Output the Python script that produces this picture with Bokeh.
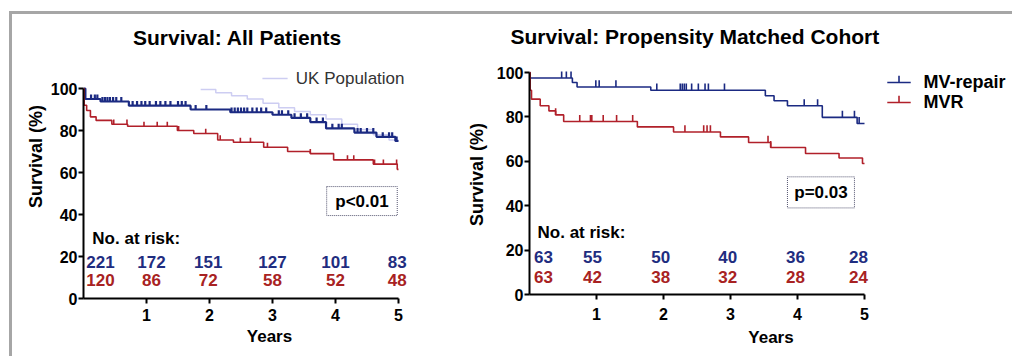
import numpy as np
from bokeh.plotting import figure
from bokeh.models import Range1d, FixedTicker, Spacer, Label
from bokeh.layouts import row, column
from bokeh.core.properties import value
from bokeh.embed import file_html
from bokeh.resources import INLINE

# ---------------- data ----------------
# Panel A: all patients
all_repair_t = [0, 0.03, 0.27, 0.72, 1.7, 2.33, 3.0, 3.3, 3.6, 3.85, 4.3, 4.65, 4.95]
all_repair_s = [100, 95, 93.8, 91.8, 90, 88.7, 87.5, 86, 84, 81, 79, 77, 75]
all_repair_cens = [0.12, 0.18, 0.22, 0.3, 0.34, 0.38, 0.42, 0.47, 0.52, 0.6, 0.78, 0.85, 0.92,
                   0.98, 1.05, 1.15, 1.22, 1.3, 1.38, 1.5, 1.56, 1.62, 1.78, 1.95, 2.35, 2.4,
                   2.45, 2.5, 2.55, 2.6, 2.68, 2.75, 2.82, 2.9, 3.1, 3.15, 3.25, 3.35, 3.45,
                   3.55, 3.7, 3.8, 3.95, 4.05, 4.1, 4.35, 4.4, 4.5, 4.6, 4.75, 4.85, 4.9, 4.97]
all_mvr_t = [0, 0.01, 0.05, 0.11, 0.2, 0.45, 0.7, 1.49, 1.75, 2.13, 2.38, 2.86, 3.24, 3.6, 3.97, 4.6, 4.98]
all_mvr_s = [100, 92, 89.5, 86.5, 84.8, 83, 82, 80, 78.6, 75.5, 74.4, 72, 70, 69, 66, 64, 61.5]
all_mvr_cens = [0.48, 0.69, 0.96, 1.17, 1.33, 1.51, 1.94, 2.17, 2.49, 2.65, 2.92, 3.6, 4.19,
                4.29, 4.62, 4.76, 4.97]
uk_t = [1.86, 2.1, 2.35, 2.6, 2.85, 3.1, 3.35, 3.6, 3.85, 4.1, 4.35, 4.6, 4.85]
uk_s = [99.5, 98, 96.5, 95, 93, 90.8, 89, 87.5, 85.5, 83, 80.5, 78, 75.5]
all_risk_repair = ["221", "172", "151", "127", "101", "83"]
all_risk_mvr = ["120", "86", "72", "58", "52", "48"]
all_p = "p<0.01"

# Panel B: propensity matched cohort
pm_repair_t = [0, 0.01, 0.64, 0.71, 1.81, 3.52, 3.65, 3.85, 4.37, 4.89]
pm_repair_s = [100, 97.5, 95.5, 93.5, 92, 89.5, 87.3, 85, 79.8, 77]
pm_repair_cens = [0.48, 0.55, 0.62, 0.99, 1.04, 1.29, 1.9, 2.25, 2.28, 2.31, 2.34, 2.42, 2.52,
                  2.62, 2.67, 2.91, 4.1, 4.3, 4.67, 4.85, 4.92]
pm_mvr_t = [0, 0.01, 0.03, 0.16, 0.29, 0.39, 0.51, 1.61, 2.15, 2.85, 3.27, 3.6, 4.12, 4.62, 4.97]
pm_mvr_s = [100, 92, 88, 85, 82.7, 80.9, 77.9, 75.5, 73.2, 71, 68.5, 66.2, 63.5, 61.5, 59]
pm_mvr_cens = [0.39, 0.75, 0.91, 0.93, 1.1, 1.3, 1.54, 2.32, 2.6, 2.65, 2.7, 3.56, 3.6]
pm_risk_repair = ["63", "55", "50", "40", "36", "28"]
pm_risk_mvr = ["63", "42", "38", "32", "28", "24"]
pm_p = "p=0.03"

x_ticks = [1, 2, 3, 4, 5]
y_ticks = [0, 20, 40, 60, 80, 100]

# ---------------- style ----------------
FONT = value("Liberation Sans")
BLUE = "#1b2a82"
RED = "#b1202a"
BLUE_TXT = "#1f2d80"
RED_TXT = "#a82222"
UK = "#cdcdf2"
GRAY = "#a6a6a6"


def surv_at(t, s, times):
    idx = np.searchsorted(np.array(t), np.array(times), side="right") - 1
    return np.array(s)[idx]


def base_fig(width, height, mbl, mbb, mbt, xend, yend, tick_standoff, xlab_standoff, ylab_standoff):
    p = figure(width=width, height=height, output_backend="svg", toolbar_location=None,
               x_range=Range1d(0, xend), y_range=Range1d(0, yend),
               min_border_left=mbl, min_border_bottom=mbb, min_border_top=mbt, min_border_right=0)
    p.frame_align = False
    p.xgrid.visible = False
    p.ygrid.visible = False
    p.outline_line_color = None
    p.background_fill_color = "white"
    p.border_fill_color = "white"
    p.xaxis.ticker = FixedTicker(ticks=x_ticks)
    p.yaxis.ticker = FixedTicker(ticks=y_ticks)
    p.xaxis.bounds = (0, 5)
    p.yaxis.bounds = (0, 100)
    for ax in (p.xaxis, p.yaxis):
        ax.axis_line_width = 2
        ax.axis_line_color = "black"
        ax.major_tick_line_width = 2
        ax.major_tick_line_color = "black"
        ax.major_tick_out = 5
        ax.major_tick_in = 0
        ax.minor_tick_line_color = None
        ax.major_label_text_font = "Liberation Sans"
        ax.major_label_text_font_style = "bold"
        ax.major_label_text_font_size = "16px"
        ax.major_label_text_color = "black"
        ax.axis_label_text_font = "Liberation Sans"
        ax.axis_label_text_font_style = "bold"
        ax.axis_label_text_color = "black"
    p.xaxis.axis_label = "Years"
    p.xaxis.axis_label_text_font_size = "17px"
    p.yaxis.axis_label = "Survival (%)"
    p.yaxis.axis_label_text_font_size = "18px"
    p.xaxis.major_label_standoff = tick_standoff
    p.yaxis.major_label_standoff = 1
    p.xaxis.axis_label_standoff = xlab_standoff
    p.yaxis.axis_label_standoff = ylab_standoff
    return p


def km(p, t, s, cens, color, lw, ch):
    xs = list(t) + [5]
    ys = list(s) + [s[-1]]
    p.step(xs, ys, mode="after", line_color=color, line_width=lw)
    if len(cens):
        cy = surv_at(t, s, cens)
        p.segment(x0=cens, y0=cy, x1=cens, y1=cy + ch, line_color=color, line_width=lw)


def txt(p, x, y, text, size, color="black", bold=True, align="center"):
    p.text(x=x, y=y, text=text, text_font=FONT, text_font_size=size,
           text_font_style="bold" if bold else "normal", text_color=color,
           text_align=align, text_baseline="middle")


# ---------------- left panel ----------------
pL = base_fig(443, 342, 71, 58, 0, 372 / 63, 284 / 2.1, 5, 3, 2)
km(pL, uk_t, uk_s, [], UK, 1.5, 0)
km(pL, all_repair_t, all_repair_s, all_repair_cens, BLUE, 2.2, 2.2)
km(pL, all_mvr_t, all_mvr_s, all_mvr_cens, RED, 1.6, 2.2)
pL.add_layout(Label(x=2.49, y=124.3, text="Survival:  All Patients", text_font="Liberation Sans",
                    text_font_size="21px", text_font_style="bold", text_color="black",
                    text_align="center", text_baseline="middle"))
pL.line([2.84, 3.24], [104.8, 104.8], line_color=UK, line_width=1.5)
txt(pL, [3.37], [104.8], ["UK Population"], "17px", color="#333333", bold=False, align="left")
risk_xL = [0.27, 1.08, 1.98, 3.0, 4.0, 4.98]
txt(pL, [0.14], [28.6], ["No. at risk:"], "17px", align="left")
txt(pL, risk_xL, [17.6] * 6, all_risk_repair, "17px", color=BLUE_TXT)
txt(pL, risk_xL, [8.6] * 6, all_risk_mvr, "17px", color=RED_TXT)
pL.quad(left=[3.86], right=[4.98], bottom=[39.5], top=[53.3], fill_color=None,
        line_color="#555570", line_width=1, line_dash="1 1")
txt(pL, [4.42], [46.4], [all_p], "17px")

# ---------------- right panel ----------------
pR = base_fig(557, 342, 74, 62, 40, 483 / 67, 240 / 2.22, 8, 5, 7)
pR.title.text = "Survival: Propensity Matched Cohort"
pR.title.align = "left"
pR.title.offset = -19
pR.title.standoff = 13
pR.title.text_font = "Liberation Sans"
pR.title.text_font_size = "21px"
pR.title.text_font_style = "bold"
pR.title.text_color = "black"
km(pR, pm_repair_t, pm_repair_s, pm_repair_cens, BLUE, 1.6, 3)
km(pR, pm_mvr_t, pm_mvr_s, pm_mvr_cens, RED, 1.6, 3)
risk_xR = [0.21, 0.94, 1.96, 2.96, 3.97, 4.91]
txt(pR, [0.12], [27.9], ["No. at risk:"], "17px", align="left")
txt(pR, risk_xR, [17.1] * 6, pm_risk_repair, "17px", color=BLUE_TXT)
txt(pR, risk_xR, [7.7] * 6, pm_risk_mvr, "17px", color=RED_TXT)
pR.quad(left=[3.85], right=[4.85], bottom=[39], top=[53], fill_color=None,
        line_color="#555570", line_width=1, line_dash="1 1")
txt(pR, [4.35], [46], [pm_p], "17px")
# legend
for yy, col, lab in ((95.5, BLUE, "MV-repair"), (86.5, RED, "MVR")):
    pR.line([5.34, 5.69], [yy, yy], line_color=col, line_width=1.6)
    pR.segment(x0=[5.515], y0=[yy], x1=[5.515], y1=[yy + 3], line_color=col, line_width=1.6)
    txt(pR, [5.88], [yy], [lab], "18px", align="left")

# ---------------- frame lines & layout ----------------
top_line = Spacer(width=1003, height=3, styles={"background-color": GRAY})
left_line = Spacer(width=3, height=342, styles={"background-color": GRAY})
layout = column(
    Spacer(width=1012, height=11),
    row(Spacer(width=9, height=3), top_line),
    row(Spacer(width=9, height=342), left_line, pL, pR),
)

open("out.html", "w").write(file_html(layout, INLINE))
